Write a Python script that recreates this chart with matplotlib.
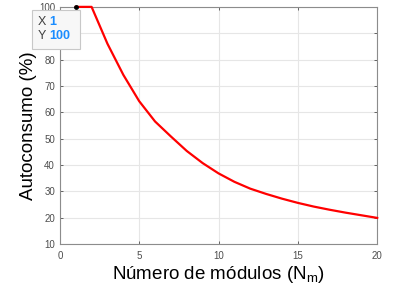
import matplotlib
matplotlib.use("Agg")
import matplotlib.pyplot as plt
from matplotlib.patches import Rectangle

plt.rcParams["font.family"] = ["Liberation Sans", "DejaVu Sans"]

# --- data ------------------------------------------------------------------------------
n_modulos = list(range(1, 21))
autoconsumo = [100, 100, 86.0, 74.2, 64.2, 56.5, 50.8, 45.3, 40.7, 36.8,
               33.6, 31.0, 29.0, 27.2, 25.6, 24.2, 23.0, 21.9, 20.9, 19.9]
tip_x, tip_y = 1, 100
x_ticks = [0, 5, 10, 15, 20]
y_ticks = list(range(10, 101, 10))

fig = plt.figure(figsize=(4.1, 2.99), dpi=100)
ax = fig.add_axes([0.146, 0.184, 0.774, 0.793])

ax.plot(n_modulos, autoconsumo, color="#ff0000", lw=1.6, zorder=3, clip_on=False)
ax.plot([tip_x], [tip_y], "o", color="black", ms=2.5, zorder=4, clip_on=False)

ax.set_xlim(0, 20)
ax.set_ylim(10, 100)
ax.set_xticks(x_ticks)
ax.set_yticks(y_ticks)
ax.grid(True, color="#e6e6e6", lw=0.8)
ax.set_axisbelow(True)
for s in ax.spines.values():
    s.set_color("#8c8c8c")
    s.set_linewidth(0.8)
ax.tick_params(labelsize=7, colors="#4d4d4d", length=2.5, width=0.6, direction="in",
               top=True, right=True)
ax.tick_params(axis="x", pad=5)

ax.set_xlabel("Número de módulos (N$_\\mathregular{m}$)", fontsize=13.5, labelpad=2)
ax.set_ylabel("Autoconsumo (%)", fontsize=13.5, labelpad=1)

# MATLAB-style data tip (sits just below the marked point)
fig.add_artist(Rectangle((0.078, 0.835), 0.117, 0.133, transform=fig.transFigure,
                         facecolor="#f7f7f7", edgecolor="#c8c8c8", lw=0.8, zorder=10))
fig.text(0.092, 0.925, "X", fontsize=9, color="#404040", va="center", zorder=11)
fig.text(0.092, 0.881, "Y", fontsize=9, color="#404040", va="center", zorder=11)
fig.text(0.121, 0.925, str(tip_x), fontsize=9, color="#1a8cff", weight="bold",
         va="center", zorder=11)
fig.text(0.121, 0.881, str(tip_y), fontsize=9, color="#1a8cff", weight="bold",
         va="center", zorder=11)

fig.savefig("out.png", dpi=100)
